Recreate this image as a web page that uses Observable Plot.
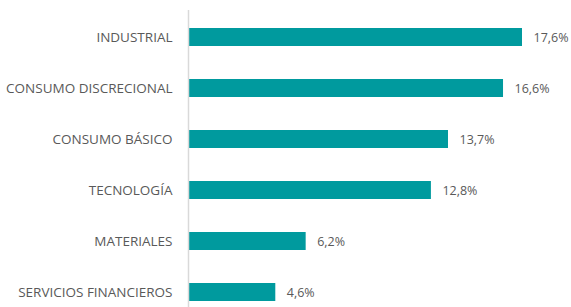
<!DOCTYPE html>
<html>
<head>
<meta charset="utf-8">
<script src="https://cdn.jsdelivr.net/npm/d3@7"></script>
<script src="https://cdn.jsdelivr.net/npm/@observablehq/plot@0.6"></script>
<style>
  html, body { margin: 0; padding: 0; background: #fff; }
  #chart svg { display: block; }
</style>
</head>
<body>
<div id="chart"></div>
<script>
const categories = ["INDUSTRIAL", "CONSUMO DISCRECIONAL", "CONSUMO BÁSICO", "TECNOLOGÍA", "MATERIALES", "SERVICIOS FINANCIEROS"];
const values = [17.6, 16.6, 13.7, 12.8, 6.2, 4.6];
const valueLabels = ["17,6%", "16,6%", "13,7%", "12,8%", "6,2%", "4,6%"];

const data = categories.map((c, i) => ({ category: c, value: values[i], label: valueLabels[i] }));

const chart = Plot.plot({
  width: 571,
  height: 307,
  marginLeft: 188,
  marginRight: 49,
  marginTop: 10,
  marginBottom: 0,
  style: { fontFamily: "'Open Sans', sans-serif", fontSize: "13.5px", color: "#595959", background: "#fff" },
  x: { domain: [0, 17.6], axis: null },
  y: { domain: categories, range: [10.4, 317.6], paddingInner: 0.648, paddingOuter: 0.324, label: null, tickSize: 0, tickPadding: 16 },
  marks: [
    Plot.barX(data, { y: "category", x: "value", fill: "#009a9e" }),
    Plot.ruleX([0], { stroke: "#d9d9d9", strokeWidth: 1.5 }),
    Plot.text(data, { y: "category", x: "value", text: "label", textAnchor: "start", dx: 11, fill: "#595959", fontSize: 12.5 })
  ]
});
document.getElementById("chart").appendChild(chart);
</script>
</body>
</html>
